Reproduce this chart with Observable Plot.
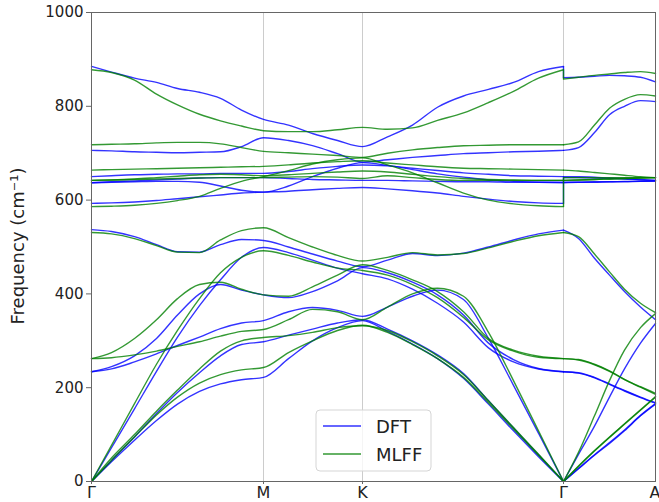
<!DOCTYPE html>
<html><head><meta charset="utf-8">
<script src="https://cdn.jsdelivr.net/npm/d3@7"></script>
<script src="https://cdn.jsdelivr.net/npm/@observablehq/plot@0.6"></script>
<style>body{margin:0;background:#fff;} #chart svg{display:block;}</style>
</head><body><div id="chart"></div>
<script>
// k-path (distance along path), tick positions and labels
const kTicks = [0, 172, 271, 472, 564];
const kLabels = ["Γ", "M", "K", "Γ", "A"];
const yTicks = [0, 200, 400, 600, 800, 1000];
// sample points along Γ-M-K-Γ (21) and Γ-A (7)
const xPath = [0,20,43,65,86,108,129,150,172, 197,221,246,271, 296,321,346,372,397,422,447,472];
const xGA = [472,487,503,518,533,549,564];

// each band: 21 values on Γ-M-K-Γ, then 7 values on Γ-A (cm^-1)
const dftTA1  = [0,42,88,130,165,192,208,217,222, 262,300,328,343, 320,293,262,220,165,108,53,0, 0,27,56,81,108,140,165];
const dftTA2  = [0,45,95,145,190,232,268,292,298, 312,325,338,345, 325,300,270,230,172,114,57,0, 0,28,57,83,110,141,166];
const dftE2a  = [234,240,255,272,290,308,326,338,343, 362,371,365,352, 372,395,408,388,305,205,103,0, 0,58,118,180,240,295,337];
const dftE2b  = [234,245,268,305,355,400,420,408,398, 392,405,428,456, 445,425,398,355,295,260,241,234, 234,232,222,208,194,180,168];
const dftLA   = [0,72,155,235,308,375,430,478,499, 488,472,455,443, 432,410,380,340,285,255,240,234, 234,231,221,207,193,179,167];
const dftB1L  = [537,533,522,505,490,489,505,516,514, 500,485,470,458, 472,486,482,487,500,515,528,536, 536,518,476,440,405,372,345];
const dftA1   = [593,594,596,599,603,607,611,615,617, 619,622,625,627, 624,620,615,608,602,597,594,593, 648,648,647,646,645,643,642];
const dftE2hA = [637,638,639,640,640,638,630,621,617, 630,650,668,680, 674,665,656,649,643,640,638,637, 637,638,638,639,639,640,640];
const dftE2hB = [637,639,641,643,645,647,648,648,648, 646,644,643,642, 642,641,640,639,639,638,638,638, 638,638,639,639,640,640,641];
const dftE1   = [650,652,654,655,656,656,657,657,657, 661,667,672,675, 673,668,663,658,655,652,651,650, 650,650,649,647,646,644,642];
const dftB1H  = [706,705,703,702,701,702,703,714,733, 727,716,699,681, 686,691,695,699,701,703,704,706, 706,712,744,782,800,812,810];
const dftLO   = [885,873,860,851,838,830,817,792,772, 760,742,727,714, 735,760,798,822,836,851,874,885, 861,862,864,866,865,862,852];

const mlffTA1  = [0,45,95,142,180,210,228,238,243, 275,300,322,333, 318,292,262,222,168,112,56,0, 0,32,65,94,122,152,180];
const mlffTA2  = [0,50,100,150,195,240,278,300,307, 311,318,328,332, 322,298,268,228,172,115,58,0, 0,33,66,95,123,153,181];
const mlffE2a  = [262,264,270,278,288,298,310,320,324, 345,367,362,345, 372,400,412,395,318,215,108,0, 0,62,140,215,280,328,358];
const mlffE2b  = [262,275,305,345,390,420,425,410,398, 395,415,440,462, 450,430,405,362,305,280,267,262, 262,260,250,236,218,202,188];
const mlffLA   = [0,77,166,250,322,390,445,478,492, 482,468,455,450, 440,420,392,350,302,278,265,262, 262,259,249,235,217,201,186];
const mlffB1L  = [531,528,518,503,489,488,515,535,541, 520,500,482,470, 478,488,483,486,498,512,524,531, 531,522,485,447,410,380,360];
const mlffA1   = [586,587,589,593,599,608,625,640,650, 663,677,686,690, 675,658,637,615,600,592,588,586, 648,648,648,648,648,648,648];
const mlffE2hA = [642,643,644,645,646,647,648,648,648, 649,650,649,646, 652,648,644,642,642,642,642,642, 642,643,644,645,646,647,648];
const mlffE2hB = [642,643,645,648,651,654,655,654,652, 654,657,660,662, 660,655,650,646,644,643,642,642, 642,643,644,645,646,647,648];
const mlffE1   = [664,665,666,667,668,669,670,671,672, 675,679,682,684, 679,675,671,668,667,666,665,664, 664,662,659,656,653,650,648];
const mlffB1H  = [718,719,720,722,723,723,720,712,704, 701,698,695,691, 700,707,712,716,717,718,718,718, 718,724,760,796,815,825,822];
const mlffLO   = [878,872,856,826,803,783,769,758,748, 746,746,750,755, 751,754,770,786,808,832,860,878, 858,862,866,869,872,874,870];

const dftBands = [dftTA1,dftTA2,dftE2a,dftE2b,dftLA,dftB1L,dftA1,dftE2hA,dftE2hB,dftE1,dftB1H,dftLO];
const mlffBands = [mlffTA1,mlffTA2,mlffE2a,mlffE2b,mlffLA,mlffB1L,mlffA1,mlffE2hA,mlffE2hB,mlffE1,mlffB1H,mlffLO];

function toRows(bands, src) {
  const rows = [];
  bands.forEach((b, j) => {
    xPath.forEach((x, i) => rows.push({src, key: `${src}${j}a`, x, f: b[i]}));
    xGA.forEach((x, i) => rows.push({src, key: `${src}${j}b`, x, f: b[xPath.length + i]}));
  });
  return rows;
}
function toJumps(bands, src) {
  const n = xPath.length;
  return bands.filter(b => b[n - 1] !== b[n]).map(b => ({src, x: xPath[n - 1], f1: b[n - 1], f2: b[n]}));
}
const dftRows = toRows(dftBands, "DFT"), mlffRows = toRows(mlffBands, "MLFF");
const dftJumps = toJumps(dftBands, "DFT"), mlffJumps = toJumps(mlffBands, "MLFF");
const BLUE = "#0000ff", GREEN = "#008000";

const plot = Plot.plot({
  width: 659, height: 502,
  marginLeft: 91, marginRight: 4, marginTop: 12, marginBottom: 21,
  style: {fontFamily: "DejaVu Sans", background: "#fff", color: "#222"},
  x: {domain: [0, 564]},
  y: {domain: [0, 1000]},
  marks: [
    Plot.ruleX(kTicks.slice(1, 4), {stroke: "#cccccc", strokeWidth: 1}),
    Plot.line(dftRows, {x: "x", y: "f", z: "key", stroke: BLUE, strokeOpacity: 0.8, strokeWidth: 1.4, curve: "monotone-x"}),
    Plot.link(dftJumps, {x1: "x", x2: "x", y1: "f1", y2: "f2", stroke: BLUE, strokeOpacity: 0.8, strokeWidth: 1.4}),
    Plot.line(mlffRows, {x: "x", y: "f", z: "key", stroke: GREEN, strokeOpacity: 0.8, strokeWidth: 1.4, curve: "monotone-x"}),
    Plot.link(mlffJumps, {x1: "x", x2: "x", y1: "f1", y2: "f2", stroke: GREEN, strokeOpacity: 0.8, strokeWidth: 1.4}),
    Plot.frame({stroke: "#666", strokeWidth: 1}),
    Plot.axisY({ticks: yTicks, tickFormat: d => String(d), tickSize: 5, tickPadding: 3, fontSize: 15, label: null, stroke: "#666"}),
    Plot.axisX({ticks: kTicks.slice(0, 4), tickFormat: d => kLabels[kTicks.indexOf(d)], tickSize: 3, tickPadding: 2, fontSize: 16, label: null, stroke: "#666"}),
    Plot.axisX({ticks: kTicks.slice(4), tickFormat: d => kLabels[kTicks.indexOf(d)], tickSize: 3, tickPadding: 2, fontSize: 16, label: null, stroke: "#666", textAnchor: "end", dx: 5})
  ]
});
document.getElementById("chart").appendChild(plot);

const svg = d3.select(plot);
svg.append("text")
  .attr("transform", "translate(24,246) rotate(-90)")
  .attr("text-anchor", "middle")
  .attr("font-family", "DejaVu Sans")
  .attr("font-size", 18)
  .attr("fill", "#222")
  .text("Frequency (cm⁻¹)");

const leg = svg.append("g").attr("font-family", "DejaVu Sans").attr("font-size", 18).attr("fill", "#222");
leg.append("rect").attr("x", 316).attr("y", 410).attr("width", 115).attr("height", 61).attr("rx", 4)
  .attr("fill", "#fff").attr("fill-opacity", 0.8).attr("stroke", "#d5d5d5");
[["DFT", BLUE, 426], ["MLFF", GREEN, 454]].forEach(([t, c, y]) => {
  leg.append("line").attr("x1", 323).attr("x2", 361).attr("y1", y).attr("y2", y)
    .attr("stroke", c).attr("stroke-opacity", 0.8).attr("stroke-width", 1.5);
  leg.append("text").attr("x", 376).attr("y", y + 6.5).attr("text-anchor", "start").text(t);
});
</script>
</body></html>
